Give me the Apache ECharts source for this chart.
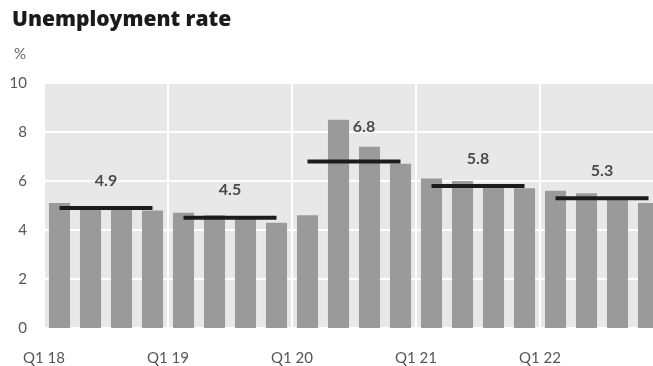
<!DOCTYPE html>
<html>
<head>
<meta charset="utf-8">
<script src="https://cdn.jsdelivr.net/npm/echarts@6/dist/echarts.min.js"></script>
<style>
  html, body { margin: 0; padding: 0; background: #fff; }
  #chart { width: 653px; height: 366px; }
</style>
</head>
<body>
<div id="chart"></div>
<script>
// Quarterly unemployment rate, %, Q1 2018 to Q4 2022
const quarters = [
  'Q1 18', 'Q2 18', 'Q3 18', 'Q4 18',
  'Q1 19', 'Q2 19', 'Q3 19', 'Q4 19',
  'Q1 20', 'Q2 20', 'Q3 20', 'Q4 20',
  'Q1 21', 'Q2 21', 'Q3 21', 'Q4 21',
  'Q1 22', 'Q2 22', 'Q3 22', 'Q4 22'
];
const rates = [
  5.1, 4.9, 4.9, 4.8,
  4.7, 4.6, 4.5, 4.3,
  4.6, 8.5, 7.4, 6.7,
  6.1, 6.0, 5.8, 5.7,
  5.6, 5.5, 5.3, 5.1
];
// Annual averages, one per year
const years = ['18', '19', '20', '21', '22'];
const annualAvg = [4.9, 4.5, 6.8, 5.8, 5.3];
const yTicks = [0, 2, 4, 6, 8, 10];

const FONT = 'Lato';
const chart = echarts.init(document.getElementById('chart'), null, { renderer: 'canvas' });

// Average lines run from the centre of Q1 to the centre of Q4 of each year
const avgSeries = annualAvg.map((v, i) => ({
  type: 'line',
  xAxisIndex: 1,
  yAxisIndex: 0,
  symbol: 'none',
  silent: true,
  z: 5,
  lineStyle: { color: '#1c1c1c', width: 4 },
  data: [[i * 4 + 0.5, v], [i * 4 + 3.5, v]]
}));

// Value labels above the middle of each average line
const avgLabels = {
  type: 'scatter',
  xAxisIndex: 1,
  yAxisIndex: 0,
  symbolSize: 1,
  silent: true,
  z: 6,
  itemStyle: { color: 'rgba(0,0,0,0)' },
  data: annualAvg.map((v, i) => ({
    value: [i * 4 + 2, v],
    label: {
      show: true,
      position: 'top',
      distance: i === 2 ? 26 : 19,
      offset: i === 2 ? [10, 0] : [0, 0],
      formatter: () => v.toFixed(1),
      color: '#222',
      fontFamily: FONT,
      fontSize: 16,
      fontWeight: 700
    }
  }))
};

chart.setOption({
  animation: false,
  backgroundColor: '#ffffff',
  title: [
    {
      text: 'Unemployment rate',
      left: 7,
      top: 5,
      textStyle: { fontFamily: 'Open Sans', fontSize: 21, fontWeight: 800, color: '#1a1a1a' }
    },
    {
      text: '%',
      left: 9,
      top: 42,
      textStyle: { fontFamily: FONT, fontSize: 15, fontWeight: 'normal', color: '#666' }
    }
  ],
  grid: {
    left: 44,
    top: 83,
    width: 620,
    bottom: 38,
    outerBoundsMode: 'none',
    show: true,
    backgroundColor: '#e8e8e8',
    borderWidth: 0
  },
  xAxis: [
    {
      type: 'category',
      data: quarters,
      axisLine: { show: false },
      axisTick: { show: false },
      axisLabel: { show: false },
      splitLine: { show: false }
    },
    {
      // Year boundaries: gridlines and "Q1 yy" labels at the start of each year
      type: 'value',
      min: 0,
      max: quarters.length,
      interval: 4,
      position: 'bottom',
      axisLine: { show: false },
      axisTick: { show: false },
      axisLabel: {
        margin: 23,
        color: '#555',
        fontFamily: FONT,
        fontSize: 15,
        formatter: (val) => {
          const idx = Math.round(val / 4);
          return idx < years.length ? 'Q1 ' + years[idx] : '';
        }
      },
      splitLine: { show: true, lineStyle: { color: '#ffffff', width: 2 } }
    }
  ],
  yAxis: {
    type: 'value',
    min: yTicks[0],
    max: yTicks[yTicks.length - 1],
    interval: 2,
    axisLine: { show: false },
    axisTick: { show: false },
    axisLabel: {
      margin: 17,
      color: '#555',
      fontFamily: FONT,
      fontSize: 15
    },
    splitLine: { show: true, lineStyle: { color: '#ffffff', width: 2 } }
  },
  series: [
    {
      type: 'bar',
      xAxisIndex: 0,
      yAxisIndex: 0,
      data: rates,
      barCategoryGap: '32%',
      itemStyle: { color: '#9a9a9a' },
      z: 3
    },
    ...avgSeries,
    avgLabels
  ]
});
</script>
</body>
</html>
